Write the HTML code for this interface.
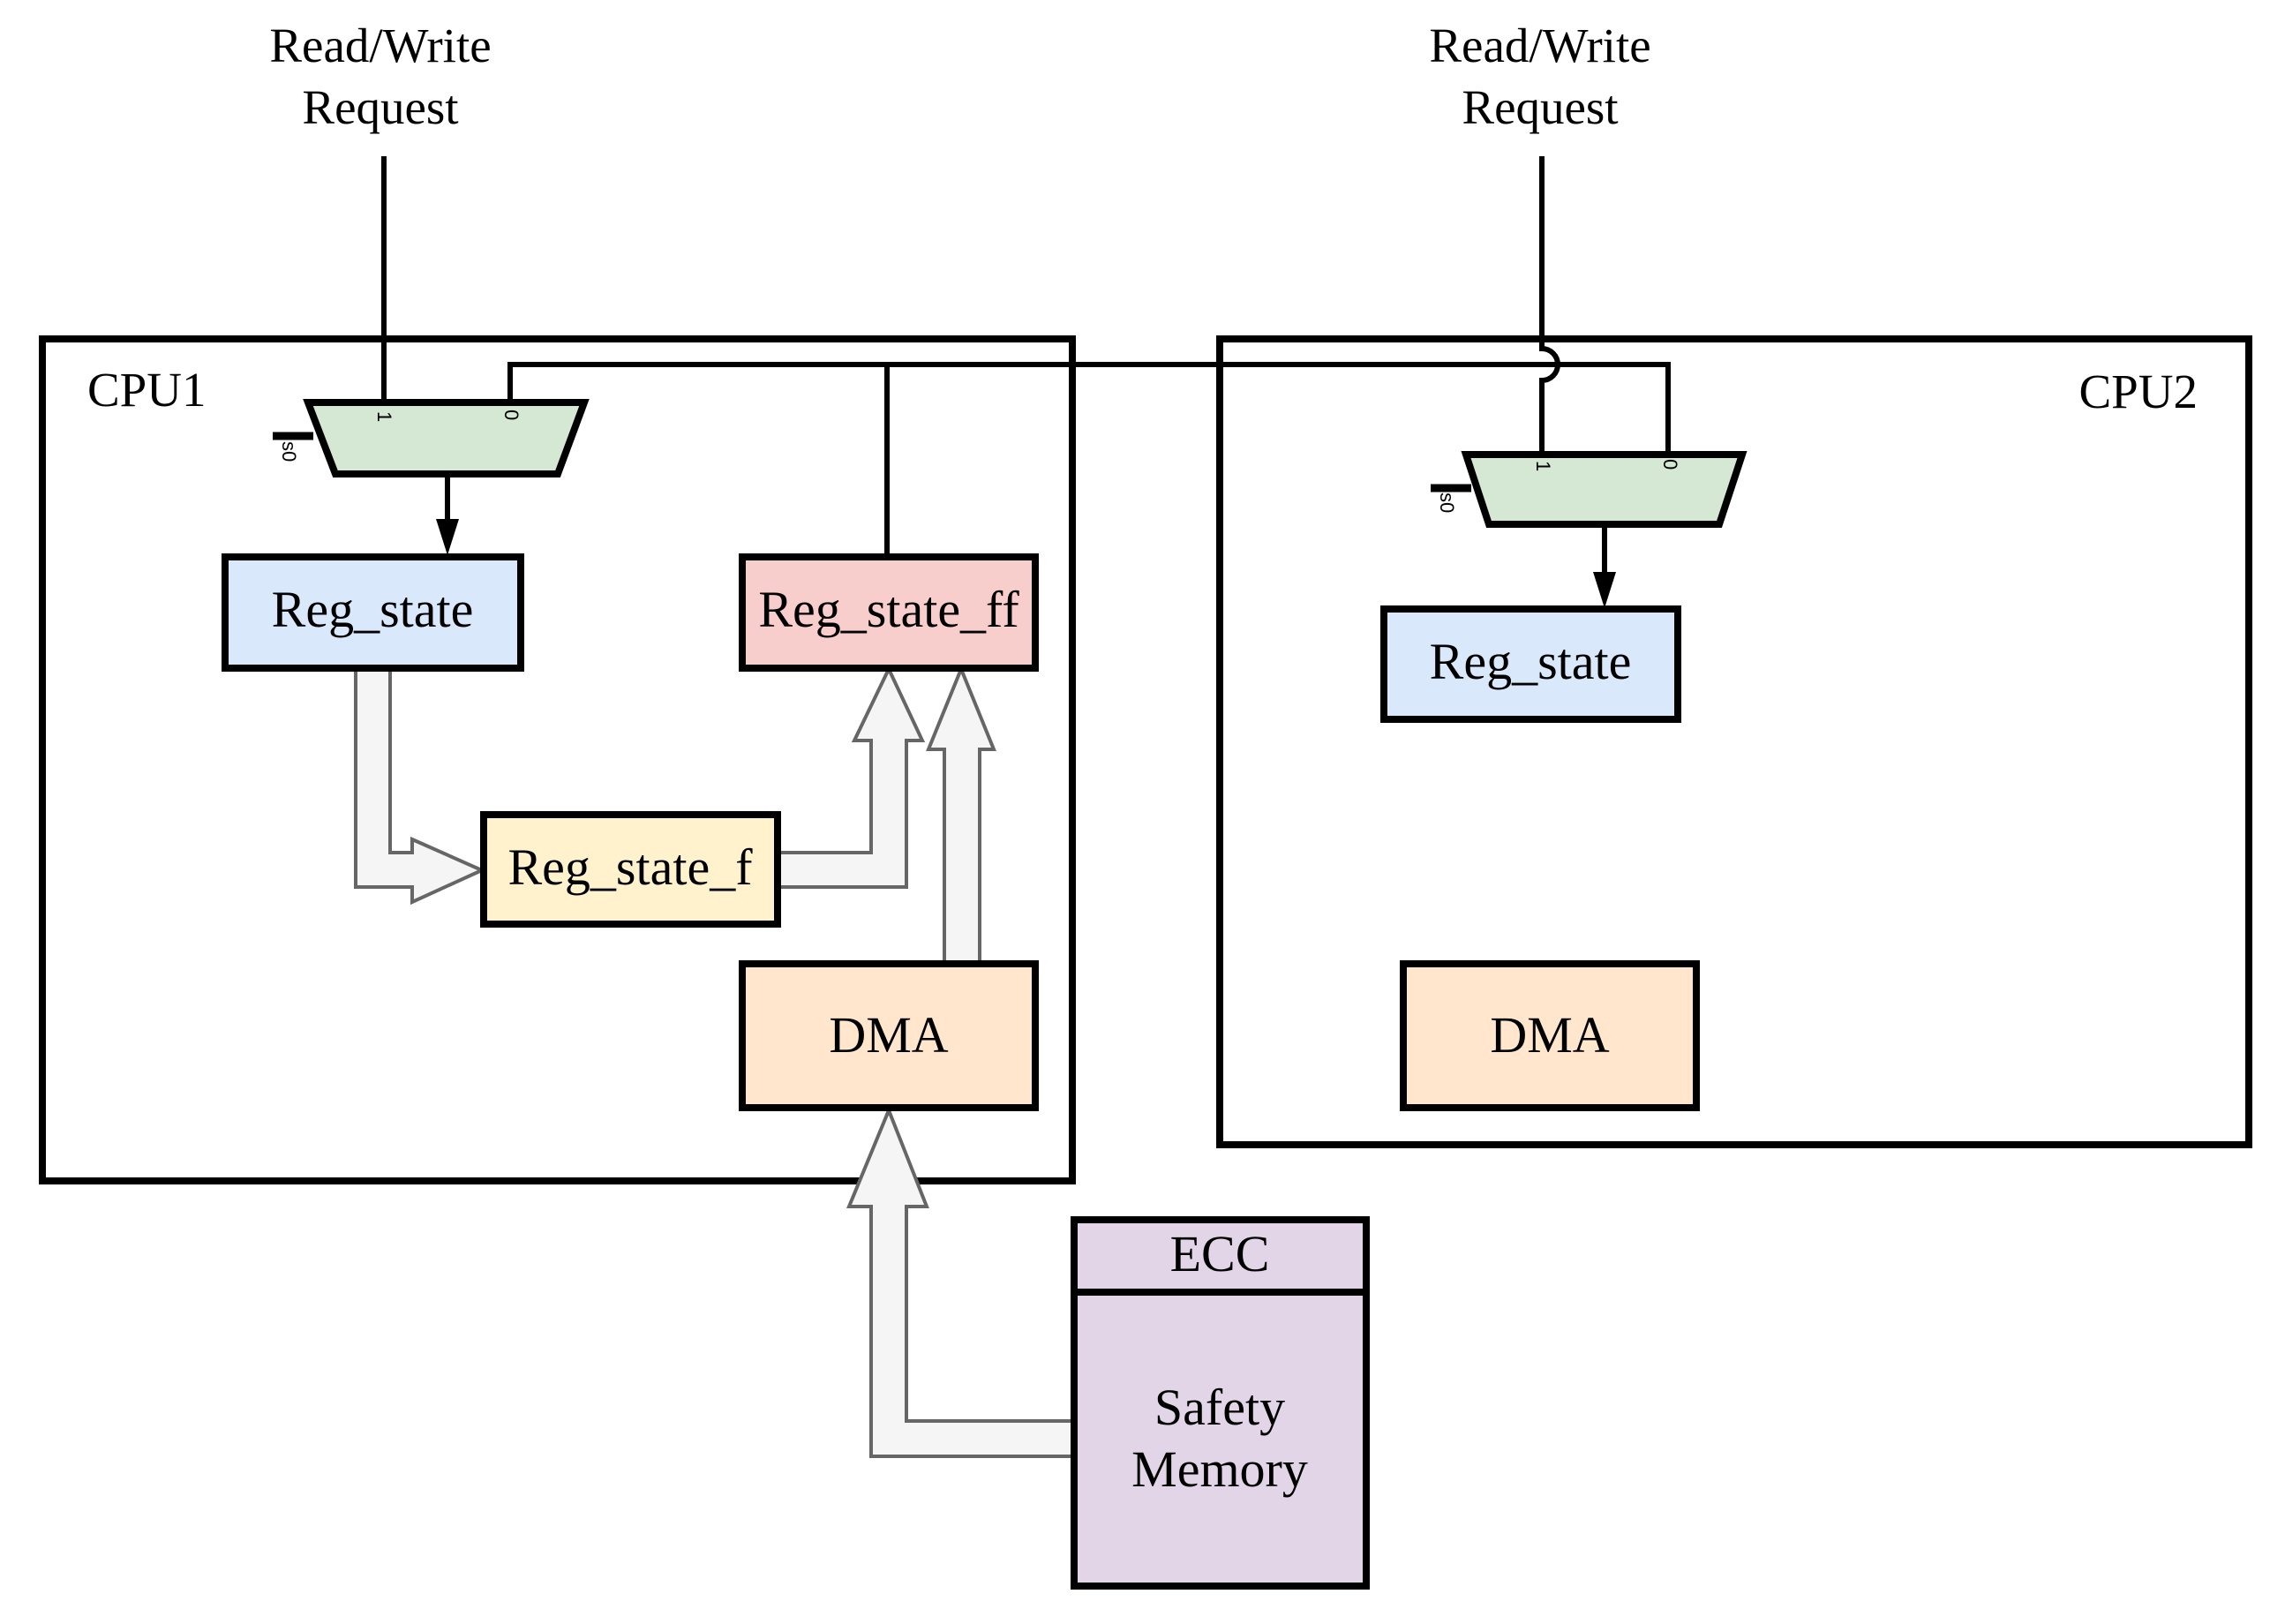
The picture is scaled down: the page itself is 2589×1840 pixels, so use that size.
<!DOCTYPE html>
<html><head><meta charset="utf-8"><style>html,body{margin:0;padding:0;background:#fff}svg{display:block}</style></head><body>
<svg width="2589" height="1840" viewBox="0 0 2589 1840" xmlns="http://www.w3.org/2000/svg" font-family="'Liberation Serif', serif">
<rect width="2589" height="1840" fill="#fff"/>
<g font-size="55" text-anchor="middle" fill="#000">
<text x="431" y="70">Read/Write</text><text x="431" y="140">Request</text>
<text x="1745" y="70">Read/Write</text><text x="1745" y="140">Request</text>
</g>
<rect x="48" y="384" width="1167" height="954" fill="none" stroke="#000" stroke-width="8"/>
<rect x="1382" y="384" width="1166" height="913" fill="none" stroke="#000" stroke-width="8"/>
<text x="99" y="460" font-size="55">CPU1</text>
<text x="2490" y="462" font-size="55" text-anchor="end">CPU2</text>
<g stroke="#000" stroke-width="6" fill="none">
<line x1="435" y1="177" x2="435" y2="456"/>
<polyline points="578,456 578,413 1005,413 1005,629"/>
<polyline points="1005,413 1890,413 1890,513"/>
<path d="M1747,177 L1747,395 A18,18 0 0 1 1747,431 L1747,513"/>
<line x1="309" y1="494" x2="355" y2="494" stroke-width="9"/>
<line x1="1621" y1="553" x2="1667" y2="553" stroke-width="9"/>
<line x1="507" y1="537" x2="507" y2="590"/>
<line x1="1818" y1="594" x2="1818" y2="650"/>
</g>
<polygon points="494,588 520,588 507,629" fill="#000"/>
<polygon points="1805,648 1831,648 1818,689" fill="#000"/>
<polygon points="349,456 662,456 632,537 380,537" fill="#d5e8d4" stroke="#000" stroke-width="8"/>
<polygon points="1661,515 1974,515 1948,594 1687,594" fill="#d5e8d4" stroke="#000" stroke-width="8"/>
<g font-family="'Liberation Sans', sans-serif" font-size="22" fill="#000">
<text transform="translate(428,466) rotate(90)">1</text>
<text transform="translate(572,464) rotate(90)">0</text>
<text transform="translate(320,500) rotate(90)">s0</text>
<text transform="translate(1741,522) rotate(90)">1</text>
<text transform="translate(1885,520) rotate(90)">0</text>
<text transform="translate(1632,558) rotate(90)">s0</text>
</g>
<g fill="#f5f5f5" stroke="#666" stroke-width="4">
<polygon points="403,758 442,758 442,966 467,966 467,951 546,986 467,1022 467,1005 403,1005"/>
<polygon points="882,966 987,966 987,839 968,839 1007,758 1045,839 1027,839 1027,1005 882,1005"/>
<polygon points="1070,1090 1070,849 1052,849 1089,758 1126,849 1110,849 1110,1090"/>
<polygon points="1215,1610 1027,1610 1027,1367 1050,1367 1007,1258 962,1367 987,1367 987,1650 1215,1650"/>
</g>
<g stroke="#000" stroke-width="8">
<rect x="255" y="631" width="335" height="126" fill="#dae8fc"/>
<rect x="841" y="631" width="332" height="126" fill="#f8cecc"/>
<rect x="548" y="923" width="333" height="124" fill="#fff2cc"/>
<rect x="841" y="1092" width="332" height="163" fill="#ffe6cc"/>
<rect x="1568" y="690" width="333" height="125" fill="#dae8fc"/>
<rect x="1590" y="1092" width="332" height="163" fill="#ffe6cc"/>
<rect x="1217" y="1382" width="331" height="415" fill="#e1d5e7"/>
<line x1="1217" y1="1464" x2="1548" y2="1464"/>
</g>
<g font-size="58" text-anchor="middle" fill="#000">
<text x="422" y="710">Reg_state</text>
<text x="1007" y="710">Reg_state_ff</text>
<text x="714" y="1002">Reg_state_f</text>
<text x="1007" y="1192">DMA</text>
<text x="1734" y="769">Reg_state</text>
<text x="1756" y="1192">DMA</text>
<text x="1382" y="1440">ECC</text>
<text x="1382" y="1614">Safety</text>
<text x="1382" y="1684">Memory</text>
</g>
</svg>
</body></html>
